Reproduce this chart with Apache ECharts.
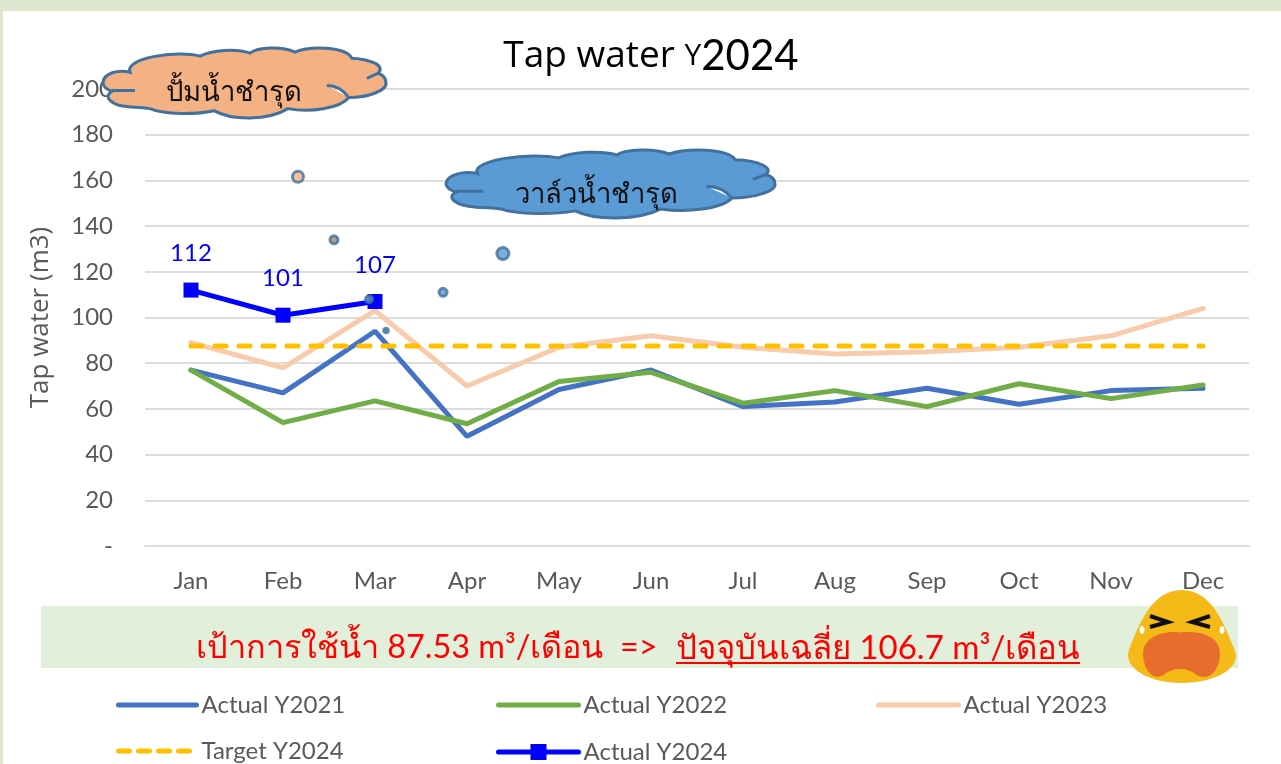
<!DOCTYPE html>
<html><head><meta charset="utf-8">
<style>
html,body{margin:0;padding:0;background:#dfe6ce;width:1281px;height:764px;overflow:hidden}
#paper{position:absolute;left:3px;top:11px;right:0;bottom:0;background:#fff}
#c{position:absolute;left:0;top:0;width:1281px;height:764px}
</style>
<script src="https://cdn.jsdelivr.net/npm/echarts@6/dist/echarts.min.js"></script>
</head><body><div id="paper"></div><div id="c"></div>
<script>
const months = ['Jan','Feb','Mar','Apr','May','Jun','Jul','Aug','Sep','Oct','Nov','Dec'];
const actual2021 = [77,67,94,48,68.5,77,61,63,69,62,68,69];
const actual2022 = [77,54,63.5,53.5,72,76,62.5,68,61,71,64.5,70.5];
const actual2023 = [89,78,103,70,87,92,87,84,85,87,92,104];
const target2024 = months.map(() => 87.53);
const actual2024 = [112,101,107];
const dotX = [1.663,2.054,2.435,2.62,3.24,3.89];
const dotY = [161.6,134,108,94.3,111,128];
const dotSize = [11,8,7,4.5,8,12];
const dotFill = ['#f4b183','#a08a70','#5b9bd5','#5b9bd5','#5b9bd5','#5b9bd5'];

const FONT = 'Lato, "Noto Sans", sans-serif';
const WIDE = '"Open Sans", Lato, sans-serif';
const GREY = '#595959';
const cloudPath = 'M130 72 C118 69 104 73 103 82 C103 88 110 90 112 91 C102 96 112 105 128 106 C132 107 140 106 150 108 C165 114 195 114 214 110 C232 120 268 120 288 108 C310 112 340 108 349 97 C368 97 388 90 386 82 C386 78 384 75 378 73 C386 66 372 59 352 58 C345 46 310 46 295 52 C282 46 258 47 250 53 C236 48 212 50 200 56 C176 50 124 58 130 72 Z M112 90 L135 90 M327 85 C336 85 344 90 349 97 M367 78 L378 73';

const chart = echarts.init(document.getElementById('c'), null, {renderer:'canvas'});
function pathEl(d,x,y,w,h,style){
  return {type:'path', shape:{pathData:d, layout:'cover', x, y, width:w, height:h}, style};
}
function cloud(x,y,w,h,fill){
  return pathEl(cloudPath,x,y,w,h,{fill, stroke:'#41719c', lineWidth:3});
}
function lineSeries(name,data,color,extra){
  return Object.assign({name,type:'line',data,xAxisIndex:0,yAxisIndex:0,symbol:'none',smooth:false,
    lineStyle:{color,width:5,cap:'round'},itemStyle:{color},emphasis:{disabled:true},animation:false},extra||{});
}
const legendCommon = {orient:'horizontal',itemWidth:80,itemHeight:14,selectedMode:false,
  itemStyle:{opacity:0},lineStyle:{width:5,cap:'round'},
  textStyle:{color:GREY,fontFamily:FONT,fontSize:24},itemGap:8,padding:0};
chart.setOption({
  animation:false,
  backgroundColor:'transparent',
  title:{text:'{a|Tap water }{b|Y}{c|2024}',left:646,top:30,textAlign:'center',
    textStyle:{fontWeight:'normal',rich:{
      a:{fontSize:37,fontFamily:WIDE,fontWeight:'normal',color:'#000'},
      b:{fontSize:30,fontFamily:WIDE,fontWeight:'normal',color:'#000'},
      c:{fontSize:42,fontFamily:FONT,fontWeight:'normal',color:'#000'}}}},
  grid:{left:145,right:32,top:89,height:457,containLabel:false},
  xAxis:[
    {type:'category',data:months,boundaryGap:true,axisTick:{show:false},
     axisLine:{lineStyle:{color:'#dcdcdc',width:2}},
     axisLabel:{color:GREY,fontFamily:FONT,fontSize:24,margin:23}},
    {type:'value',min:0,max:12,show:false}
  ],
  yAxis:{type:'value',min:0,max:200,interval:20,name:'Tap water (m3)',nameLocation:'middle',nameGap:91,
    nameTextStyle:{color:GREY,fontFamily:WIDE,fontSize:26},
    axisLine:{show:false},axisTick:{show:false},
    axisLabel:{color:GREY,fontFamily:FONT,fontSize:24,margin:32,formatter:v=>v===0?'-':String(v)},
    splitLine:{lineStyle:{color:'#dcdcdc',width:2}}},
  legend:[
    Object.assign({},legendCommon,{data:['Actual Y2021'],left:116,top:693,itemWidth:78}),
    Object.assign({},legendCommon,{data:['Actual Y2022'],left:496,top:693}),
    Object.assign({},legendCommon,{data:['Actual Y2023'],left:876,top:693}),
    Object.assign({},legendCommon,{data:['Target Y2024'],left:116,top:739,itemWidth:78,lineStyle:{width:5,type:[11,9],cap:'round'}}),
    Object.assign({},legendCommon,{data:['Actual Y2024'],left:496,top:740,itemHeight:20,itemStyle:{opacity:1}})
  ],
  series:[
    lineSeries('Actual Y2021',actual2021,'#4472c4'),
    lineSeries('Actual Y2022',actual2022,'#70ad47'),
    lineSeries('Actual Y2023',actual2023,'#f8cbad'),
    lineSeries('Target Y2024',target2024,'#ffc000',{lineStyle:{color:'#ffc000',width:5,type:[11,13],cap:'round'}}),
    lineSeries('Actual Y2024',actual2024,'#0000ff',{symbol:'rect',symbolSize:15,
      lineStyle:{color:'#0000ff',width:5},
      label:{show:true,position:'top',distance:17,color:'#0000ff',fontFamily:FONT,fontSize:24}}),
    {type:'scatter',xAxisIndex:1,yAxisIndex:0,z:6,silent:true,animation:false,
     data:dotX.map((x,i)=>({value:[x,dotY[i]],symbolSize:dotSize[i],itemStyle:{color:dotFill[i],borderColor:'#41719c',borderWidth:3}}))},
    {type:'custom',coordinateSystem:'none',z:20,silent:true,data:[0],clip:false,
     renderItem:()=>({type:'group',children:[
        cloud(103,48,283,70,'#f4b183'),
        cloud(446,150,329,68,'#5b9bd5'),
        pathEl('M1182 590 C1152 590 1140 625 1130 650 C1124 668 1150 683 1182 683 C1214 683 1242 668 1234 650 C1224 625 1212 590 1182 590 Z',1128,590,108,93,{fill:'#f5b918'}),
        pathEl('M1180 632 C1200 630 1222 635 1220 655 C1218 672 1206 678 1196 672 C1188 665 1172 665 1164 672 C1154 678 1145 670 1143 655 C1141 638 1160 630 1180 632 Z',1143,632,77,45,{fill:'#e76d2d'}),
        pathEl('M1150 616 L1168 622 L1150 627',1150,616,18,11,{fill:'none',stroke:'#111',lineWidth:4}),
        pathEl('M1210 616 L1192 622 L1210 627',1192,616,18,11,{fill:'none',stroke:'#111',lineWidth:4}),
        {type:'ellipse',shape:{cx:1142,cy:630,rx:2.5,ry:4},style:{fill:'#fff'}},
        {type:'ellipse',shape:{cx:1222,cy:630,rx:2.5,ry:4},style:{fill:'#fff'}}
     ]})}
  ],
  graphic:{elements:[
    {type:'rect',z:10,shape:{x:41,y:606,width:1197,height:62},style:{fill:'#e2efda'}},
    {type:'text',z:12,x:196,y:632,style:{text:'เป้าการใช้น้ำ 87.53 m³/เดือน  =>',fill:'#ff0000',font:'32.4px '+FONT}},
    {type:'text',z:12,x:676,y:632,style:{text:'ปัจจุบันเฉลี่ย 106.7 m³/เดือน',fill:'#ff0000',font:'33px '+FONT}},
    {type:'line',z:12,shape:{x1:676,y1:663,x2:1080,y2:663},style:{stroke:'#ff0000',lineWidth:2}},
    {type:'text',z:30,x:166,y:78,style:{text:'ปั้มน้ำชำรุด',fill:'#111',font:'27.5px '+FONT}},
    {type:'text',z:30,x:515,y:180,style:{text:'วาล์วน้ำชำรุด',fill:'#111',font:'27.5px '+FONT}}
  ]}
});
</script></body></html>
